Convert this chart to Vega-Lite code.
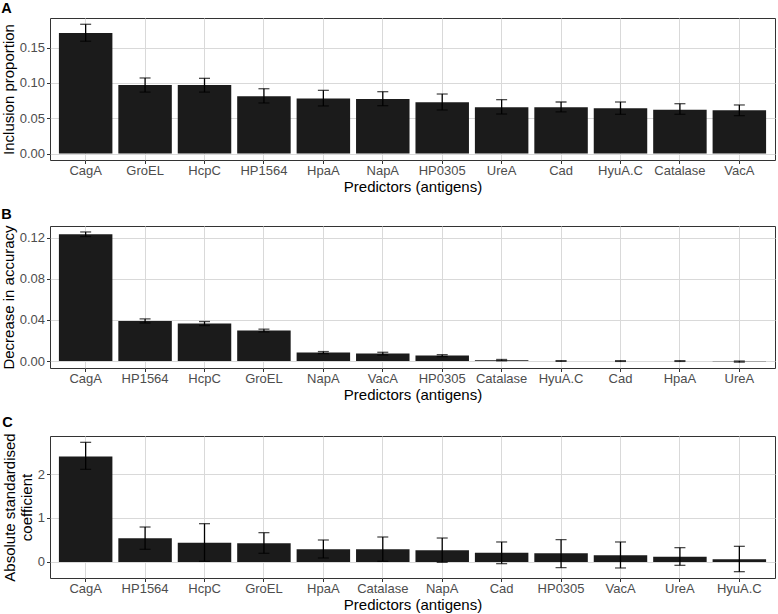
{
  "$schema": "https://vega.github.io/schema/vega-lite/v6.json",
  "padding": {"left": 0, "top": 0, "right": 1, "bottom": 0},
  "background": "white",
  "spacing": 11,
  "datasets": {
    "A": [
      {"antigen": "CagA", "value": 0.1705, "lo": 0.159, "hi": 0.183},
      {"antigen": "GroEL", "value": 0.097, "lo": 0.087, "hi": 0.107},
      {"antigen": "HcpC", "value": 0.097, "lo": 0.087, "hi": 0.1065},
      {"antigen": "HP1564", "value": 0.081, "lo": 0.0716, "hi": 0.0918},
      {"antigen": "HpaA", "value": 0.078, "lo": 0.0674, "hi": 0.0895},
      {"antigen": "NapA", "value": 0.0773, "lo": 0.0678, "hi": 0.0876},
      {"antigen": "HP0305", "value": 0.0726, "lo": 0.0617, "hi": 0.0843},
      {"antigen": "UreA", "value": 0.0655, "lo": 0.056, "hi": 0.0763},
      {"antigen": "Cad", "value": 0.0655, "lo": 0.059, "hi": 0.073},
      {"antigen": "HyuA.C", "value": 0.064, "lo": 0.0556, "hi": 0.073},
      {"antigen": "Catalase", "value": 0.0622, "lo": 0.0556, "hi": 0.0706},
      {"antigen": "VacA", "value": 0.0613, "lo": 0.0537, "hi": 0.0688}
    ],
    "B": [
      {"antigen": "CagA", "value": 0.1233, "lo": 0.1212, "hi": 0.1256},
      {"antigen": "HP1564", "value": 0.039, "lo": 0.037, "hi": 0.041},
      {"antigen": "HcpC", "value": 0.0365, "lo": 0.0345, "hi": 0.0384},
      {"antigen": "GroEL", "value": 0.0297, "lo": 0.0283, "hi": 0.031},
      {"antigen": "NapA", "value": 0.0082, "lo": 0.0072, "hi": 0.0092},
      {"antigen": "VacA", "value": 0.0072, "lo": 0.0059, "hi": 0.0085},
      {"antigen": "HP0305", "value": 0.0053, "lo": 0.0043, "hi": 0.0062},
      {"antigen": "Catalase", "value": 0.0007, "lo": 0.0002, "hi": 0.0015},
      {"antigen": "HyuA.C", "value": 0.0, "lo": -0.0004, "hi": 0.0003},
      {"antigen": "Cad", "value": 0.0001, "lo": -0.0004, "hi": 0.0003},
      {"antigen": "HpaA", "value": 0.0001, "lo": -0.0004, "hi": 0.0003},
      {"antigen": "UreA", "value": -0.0002, "lo": -0.0011, "hi": 0.0}
    ],
    "C": [
      {"antigen": "CagA", "value": 2.4, "lo": 2.106, "hi": 2.72},
      {"antigen": "HP1564", "value": 0.538, "lo": 0.288, "hi": 0.795},
      {"antigen": "HcpC", "value": 0.44, "lo": 0.015, "hi": 0.871},
      {"antigen": "GroEL", "value": 0.424, "lo": 0.197, "hi": 0.667},
      {"antigen": "HpaA", "value": 0.288, "lo": 0.091, "hi": 0.5},
      {"antigen": "Catalase", "value": 0.288, "lo": 0.015, "hi": 0.568},
      {"antigen": "NapA", "value": 0.265, "lo": -0.008, "hi": 0.545},
      {"antigen": "Cad", "value": 0.212, "lo": -0.038, "hi": 0.455},
      {"antigen": "HP0305", "value": 0.197, "lo": -0.129, "hi": 0.508},
      {"antigen": "VacA", "value": 0.152, "lo": -0.136, "hi": 0.455},
      {"antigen": "UreA", "value": 0.121, "lo": -0.076, "hi": 0.326},
      {"antigen": "HyuA.C", "value": 0.061, "lo": -0.22, "hi": 0.356}
    ]
  },
  "config": {
    "font": "Liberation Sans",
    "view": {"stroke": "#333333", "strokeWidth": 1},
    "axis": {
      "domain": false,
      "labelFont": "Liberation Sans",
      "titleFont": "Liberation Sans",
      "labelFontSize": 13,
      "labelColor": "#4d4d4d",
      "titleFontSize": 15,
      "titleFontWeight": "normal",
      "titleColor": "black",
      "tickColor": "#333333",
      "tickSize": 3.5,
      "tickWidth": 1,
      "gridColor": "#d9d9d9",
      "gridWidth": 1
    },
    "axisX": {"labelPadding": 1, "titlePadding": 2, "labelAngle": 0},
    "axisY": {"labelPadding": 2, "titlePadding": 3},
    "title": {"anchor": "start", "frame": "bounds", "fontSize": 14.5, "fontWeight": "bold", "font": "Liberation Sans", "offset": 2, "color": "black"}
  },
  "vconcat": [
    {
      "title": "A",
      "width": 725,
      "height": 142,
      "data": {"name": "A"},
      "encoding": {
        "x": {"field": "antigen", "type": "nominal", "sort": null,
              "scale": {"paddingInner": 0.1, "paddingOuter": 0.15},
              "axis": {"title": "Predictors (antigens)", "grid": true}}
      },
      "layer": [
        {
          "mark": {"type": "bar", "color": "#1b1b1b"},
          "encoding": {
            "y": {"field": "value", "type": "quantitative", "title": "Inclusion proportion",
                  "scale": {"domain": [-0.0091, 0.1919], "nice": false, "zero": false},
                  "axis": {"values": [0, 0.025, 0.05, 0.075, 0.1, 0.125, 0.15, 0.175],
                           "labelExpr": "round(datum.value/0.025)%2==1 ? '' : format(datum.value, '.2f')",
                           "gridColor": {"condition": {"test": "round(datum.value/0.025)%2==1", "value": "#ececec"}, "value": "#d9d9d9"},
                           "gridWidth": {"condition": {"test": "round(datum.value/0.025)%2==1", "value": 0.6}, "value": 1},
                           "tickOpacity": {"condition": {"test": "round(datum.value/0.025)%2==1", "value": 0}, "value": 1}}}
          }
        },
        {
          "mark": {"type": "errorbar", "ticks": true, "size": 11, "thickness": 1.3, "color": "black"},
          "encoding": {
            "y": {"field": "lo", "type": "quantitative", "title": "Inclusion proportion"},
            "y2": {"field": "hi"}
          }
        }
      ]
    },
    {
      "title": "B",
      "width": 725,
      "height": 142,
      "data": {"name": "B"},
      "encoding": {
        "x": {"field": "antigen", "type": "nominal", "sort": null,
              "scale": {"paddingInner": 0.1, "paddingOuter": 0.15},
              "axis": {"title": "Predictors (antigens)", "grid": true}}
      },
      "layer": [
        {
          "mark": {"type": "bar", "color": "#1b1b1b"},
          "encoding": {
            "y": {"field": "value", "type": "quantitative", "title": "Decrease in accuracy",
                  "scale": {"domain": [-0.0068, 0.1314], "nice": false, "zero": false},
                  "axis": {"values": [0, 0.02, 0.04, 0.06, 0.08, 0.1, 0.12],
                           "labelExpr": "round(datum.value/0.02)%2==1 ? '' : format(datum.value, '.2f')",
                           "gridColor": {"condition": {"test": "round(datum.value/0.02)%2==1", "value": "#ececec"}, "value": "#d9d9d9"},
                           "gridWidth": {"condition": {"test": "round(datum.value/0.02)%2==1", "value": 0.6}, "value": 1},
                           "tickOpacity": {"condition": {"test": "round(datum.value/0.02)%2==1", "value": 0}, "value": 1}}}
          }
        },
        {
          "mark": {"type": "errorbar", "ticks": true, "size": 11, "thickness": 1.3, "color": "black"},
          "encoding": {
            "y": {"field": "lo", "type": "quantitative", "title": "Decrease in accuracy"},
            "y2": {"field": "hi"}
          }
        }
      ]
    },
    {
      "title": "C",
      "width": 725,
      "height": 142,
      "data": {"name": "C"},
      "encoding": {
        "x": {"field": "antigen", "type": "nominal", "sort": null,
              "scale": {"paddingInner": 0.1, "paddingOuter": 0.15},
              "axis": {"title": "Predictors (antigens)", "grid": true}}
      },
      "layer": [
        {
          "mark": {"type": "bar", "color": "#1b1b1b"},
          "encoding": {
            "y": {"field": "value", "type": "quantitative", "title": ["Absolute standardised", "coefficient"],
                  "scale": {"domain": [-0.364, 2.864], "nice": false, "zero": false},
                  "axis": {"titleLineHeight": 17,
                           "values": [0, 0.5, 1, 1.5, 2, 2.5],
                           "labelExpr": "round(datum.value/0.5)%2==1 ? '' : format(datum.value, 'd')",
                           "gridColor": {"condition": {"test": "round(datum.value/0.5)%2==1", "value": "#ececec"}, "value": "#d9d9d9"},
                           "gridWidth": {"condition": {"test": "round(datum.value/0.5)%2==1", "value": 0.6}, "value": 1},
                           "tickOpacity": {"condition": {"test": "round(datum.value/0.5)%2==1", "value": 0}, "value": 1}}}
          }
        },
        {
          "mark": {"type": "errorbar", "ticks": true, "size": 11, "thickness": 1.3, "color": "black"},
          "encoding": {
            "y": {"field": "lo", "type": "quantitative", "title": ["Absolute standardised", "coefficient"]},
            "y2": {"field": "hi"}
          }
        }
      ]
    }
  ]
}
